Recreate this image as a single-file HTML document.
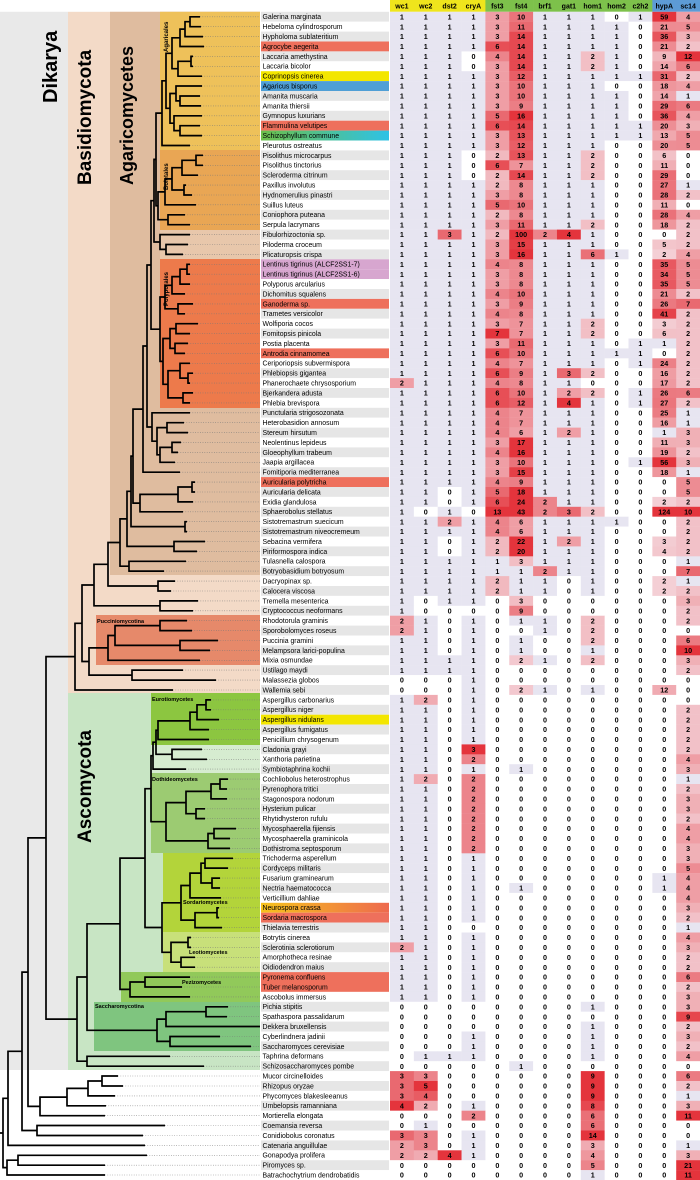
<!DOCTYPE html>
<html><head><meta charset="utf-8">
<style>
html,body{margin:0;padding:0;background:#fff;}
svg{display:block;font-family:"Liberation Sans",Arial,sans-serif;}
</style></head>
<body>
<svg id="chart" width="700" height="1180" viewBox="0 0 700 1180" xmlns="http://www.w3.org/2000/svg">
<defs>
<linearGradient id="gSchizo" x1="0" x2="1" y1="0" y2="0"><stop offset="0" stop-color="#6cbf4a"/><stop offset="1" stop-color="#2ec2e6"/></linearGradient>
<linearGradient id="gNeuro" x1="0" x2="1" y1="0" y2="0"><stop offset="0" stop-color="#f6c21c"/><stop offset="1" stop-color="#ee6a4e"/></linearGradient>
</defs>
<g id="bands"></g>
<g id="tree"></g>
<g id="labels">
<text x="57" y="103" transform="rotate(-90 57 103)" font-size="20" font-weight="bold">Dikarya</text>
<text x="91" y="185" transform="rotate(-90 91 185)" font-size="19" font-weight="bold">Basidiomycota</text>
<text x="133" y="185" transform="rotate(-90 133 185)" font-size="18" font-weight="bold">Agaricomycetes</text>
<text x="91" y="843" transform="rotate(-90 91 843)" font-size="19" font-weight="bold">Ascomycota</text>
<text x="168" y="52" transform="rotate(-90 168 52)" font-size="6" font-weight="bold">Agaricales</text>
<text x="168" y="190" transform="rotate(-90 168 190)" font-size="6" font-weight="bold">Boletales</text>
<text x="168" y="306" transform="rotate(-90 168 306)" font-size="6" font-weight="bold">Polyporales</text>
<text x="97" y="623" font-size="5.5" font-weight="bold">Pucciniomycotina</text>
<text x="152" y="701" font-size="5.5" font-weight="bold">Eurotiomycetes</text>
<text x="152" y="781" font-size="5.5" font-weight="bold">Dothideomycetes</text>
<text x="183" y="904" font-size="5.5" font-weight="bold">Sordariomycetes</text>
<text x="189" y="954" font-size="5.5" font-weight="bold">Leotiomycetes</text>
<text x="182" y="984" font-size="5.5" font-weight="bold">Pezizomycetes</text>
<text x="95" y="1008" font-size="5.5" font-weight="bold">Saccharomycotina</text>
</g>
<g id="table"></g>
</svg>
<script>
const species = ["Galerina marginata","Hebeloma cylindrosporum","Hypholoma sublateritium","Agrocybe aegerita","Laccaria amethystina","Laccaria bicolor","Coprinopsis cinerea","Agaricus bisporus","Amanita muscaria","Amanita thiersii",
"Gymnopus luxurians","Flammulina velutipes","Schizophyllum commune","Pleurotus ostreatus","Pisolithus microcarpus","Pisolithus tinctorius","Scleroderma citrinum","Paxillus involutus","Hydnomerulius pinastri","Suillus luteus",
"Coniophora puteana","Serpula lacrymans","Fibulorhizoctonia sp.","Piloderma croceum","Plicaturopsis crispa","Lentinus tigrinus (ALCF2SS1-7)","Lentinus tigrinus (ALCF2SS1-6)","Polyporus arcularius","Dichomitus squalens","Ganoderma sp.",
"Trametes versicolor","Wolfiporia cocos","Fomitopsis pinicola","Postia placenta","Antrodia cinnamomea","Ceriporiopsis subvermispora","Phlebiopsis gigantea","Phanerochaete chrysosporium","Bjerkandera adusta","Phlebia brevispora",
"Punctularia strigosozonata","Heterobasidion annosum","Stereum hirsutum","Neolentinus lepideus","Gloeophyllum trabeum","Jaapia argillacea","Fomitiporia mediterranea","Auricularia polytricha","Auricularia delicata","Exidia glandulosa",
"Sphaerobolus stellatus","Sistotremastrum suecicum","Sistotremastrum niveocremeum","Sebacina vermifera","Piriformospora indica","Tulasnella calospora","Botryobasidium botryosum","Dacryopinax sp.","Calocera viscosa","Tremella mesenterica",
"Cryptococcus neoformans","Rhodotorula graminis","Sporobolomyces roseus","Puccinia gramini","Melampsora larici-populina","Mixia osmundae","Ustilago maydi","Malassezia globos","Wallemia sebi","Aspergillus carbonarius",
"Aspergillus niger","Aspergillus nidulans","Aspergillus fumigatus","Penicillium chrysogenum","Cladonia grayi","Xanthoria parietina","Symbiotaphrina kochii","Cochliobolus heterostrophus","Pyrenophora tritici","Stagonospora nodorum",
"Hysterium pulicar","Rhytidhysteron rufulu","Mycosphaerella fijiensis","Mycosphaerella graminicola","Dothistroma septosporum","Trichoderma asperellum","Cordyceps militaris","Fusarium graminearum","Nectria haematococca","Verticillium dahliae",
"Neurospora crassa","Sordaria macrospora","Thielavia terrestris","Botrytis cinerea","Sclerotinia sclerotiorum","Amorphotheca resinae","Oidiodendron maius","Pyronema confluens","Tuber melanosporum","Ascobolus immersus",
"Pichia stipitis","Spathaspora passalidarum","Dekkera bruxellensis","Cyberlindnera jadinii","Saccharomyces cerevisiae","Taphrina deformans","Schizosaccharomyces pombe","Mucor circinelloides","Rhizopus oryzae","Phycomyces blakesleeanus",
"Umbelopsis ramanniana","Mortierella elongata","Coemansia reversa","Conidiobolus coronatus","Catenaria anguillulae","Gonapodya prolifera","Piromyces sp.","Batrachochytrium dendrobatidis"];

const genes = ["wc1","wc2","dst2","cryA","fst3","fst4","brf1","gat1","hom1","hom2","c2h2","hypA","sc14"];
const z10=[0,0,0,0,0,0,0,0,0,0], o10=[1,1,1,1,1,1,1,1,1,1];
const wc1 = [...o10,...o10,...o10, 1,1,1,1,1,1,1,2,1,1, ...o10,...o10, 1,2,2,1,1,1,1,0,0,1, ...o10,...o10, 1,1,1,1,2,1,1,1,1,1, 0,0,0,0,0,0,0,3,3,3, 4,0,0,3,2,2,0,0];
const wc2 = [...o10,...o10,...o10,...o10,...o10, 0,1,1,1,1,1,1,1,1,0, 0,1,1,1,1,1,1,0,0,2, 1,1,1,1,1,1,1,2,1,1, ...o10,...o10, 0,0,0,0,0,1,0,3,5,4, 2,0,1,3,3,2,0,0];
const dst2 = [...o10,...o10, 1,1,3,1,1,1,1,1,1,1, ...o10, 1,1,1,1,1,1,1,1,0,0, 1,2,1,0,0,1,1,1,1,1, 0,0,0,0,0,1,1,0,0,0, ...z10,...z10,...z10, 0,0,0,0,0,1,0,0,0,0, 0,0,0,0,0,4,0,0];
const cryA = [1,1,1,1,0,0,1,1,1,1, 1,1,1,1,0,0,0,1,1,1, ...o10,...o10,...o10, 0,1,1,1,1,1,1,1,1,1, 0,1,1,1,1,1,1,1,1,1, 1,1,1,1,3,2,1,2,2,2, 2,2,2,2,2,1,1,1,1,1, 1,1,0,1,1,1,1,1,1,1, 0,0,0,1,1,1,0,0,0,0, 1,2,0,1,1,1,0,0];
const fst3 = [3,3,3,6,4,3,3,3,3,3, 5,6,3,3,2,6,2,2,3,5, 2,3,2,3,3,4,3,3,4,3, 4,3,7,3,6,4,6,4,6,6, 4,4,4,3,4,3,3,4,5,6, 13,4,4,2,2,1,1,2,2,0, ...z10,...z10,...z10,...z10,...z10, 0,0,0,0,0,0,0,0];
const fst4 = [10,11,14,14,14,14,12,10,10,9, 16,14,13,12,13,7,14,8,8,10, 8,11,100,15,16,8,8,8,10,9, 8,7,7,11,10,7,9,8,10,12, 7,7,6,17,16,10,15,9,18,24, 43,6,6,22,20,3,1,1,1,3, 9,1,0,1,1,2,0,0,2,0, 0,0,0,0,0,0,1,0,0,0, 0,0,0,0,0,0,0,0,1,0, ...z10, 0,0,0,0,0,0,1,0,0,0, 0,0,0,0,0,0,0,0];
const brf1 = [...o10,...o10, 1,1,2,1,1,1,1,1,1,1, ...o10, 1,1,1,1,1,1,1,1,1,2, 2,1,1,1,1,1,2,1,1,0, 0,1,1,0,0,1,0,0,1,0, ...z10,...z10,...z10,...z10, 0,0,0,0,0,0,0,0];
const gat1 = [...o10,...o10, 1,1,4,1,1,1,1,1,1,1, 1,1,1,1,1,1,3,1,2,4, 1,1,2,1,1,1,1,1,1,1, 3,1,1,2,1,1,1,0,0,0, ...z10,...z10,...z10,...z10,...z10, 0,0,0,0,0,0,0,0];
const hom1 = [1,1,1,1,2,2,1,1,1,1, 1,1,1,1,2,2,2,1,1,1, 1,2,1,1,6,1,1,1,1,1, 1,2,2,1,1,1,2,0,2,1, ...o10, 2,1,1,1,1,1,1,1,1,0, 0,2,2,2,1,2,0,0,1,0, ...z10,...z10,...z10, 1,0,1,1,1,1,0,9,9,9, 8,6,6,14,3,4,5,1];
const hom2 = [0,1,1,1,1,1,1,0,1,1, 1,1,1,0,0,0,0,0,0,0, 0,0,0,0,1,0,0,0,0,0, 0,0,0,0,1,0,0,0,0,0, ...z10, 0,1,0,0,0,0,0,0,0,0, ...z10,...z10,...z10,...z10,...z10, 0,0,0,0,0,0,0,0];
const c2h2 = [1,0,0,0,0,0,1,0,0,0, 0,1,1,0,0,0,0,0,0,0, ...z10, 0,0,0,1,1,1,0,0,1,1, 0,0,0,0,0,1,0,0,0,0, ...z10,...z10,...z10,...z10,...z10,...z10, 0,0,0,0,0,0,0,0];
const hypA = [59,21,36,21,9,14,31,18,14,29, 36,20,13,20,6,11,29,27,28,11, 28,18,0,5,2,35,34,35,21,26, 41,3,6,1,0,24,16,17,26,27, 25,16,1,11,19,56,18,0,0,2, 124,0,0,3,4,0,0,2,2,0, 0,0,0,0,0,0,0,0,12,0, ...z10, 0,0,0,0,0,0,0,1,1,0, ...z10,...z10, 0,0,0,0,0,0,0,0];
const sc14 = [4,5,3,2,12,6,2,4,1,6, 4,3,5,5,0,0,0,1,2,0, 4,2,2,2,4,5,5,5,2,7, 2,2,2,2,2,2,2,2,6,2, 1,1,3,3,2,3,1,5,5,2, 10,2,2,2,2,1,7,1,2,3, 2,2,0,6,10,3,2,0,0,0, 2,2,2,2,2,4,3,1,2,3, 3,2,4,4,3,3,5,4,4,4, 3,2,1,4,3,2,2,6,2,3, 3,9,2,3,2,4,0,6,2,1, 3,11,0,0,1,3,21,11];
const columns = [wc1,wc2,dst2,cryA,fst3,fst4,brf1,gat1,hom1,hom2,c2h2,hypA,sc14];
const colorCaps = [4,5,4,3,7,16,3,4,9,2,2,45,10];
const headerColors = ["#efe51c","#efe51c","#efe51c","#efe51c","#7dc14b","#7dc14b","#7dc14b","#7dc14b","#7dc14b","#7dc14b","#7dc14b","#5d9bd6","#5d9bd6"];
const highlights = {3:"#ee705c",6:"#f3e600",7:"#4f9fd6",11:"#ee705c",12:"url(#gSchizo)",25:"#d7a6cf",26:"#d7a6cf",29:"#ee705c",34:"#ee705c",47:"#ee705c",71:"#f3e600",90:"url(#gNeuro)",91:"#ee705c",97:"#ee705c",98:"#ee705c"};

const NS="http://www.w3.org/2000/svg";
const ROW0=11.8, RH=9.9, NAMEX=260, COLX=390, CW=23.85;
function rowY(i){return ROW0+RH*i+RH/2;}
function mk(tag,attrs,parent){const e=document.createElementNS(NS,tag);for(const k in attrs)e.setAttribute(k,attrs[k]);parent.appendChild(e);return e;}
function hex(c){return [parseInt(c.slice(1,3),16),parseInt(c.slice(3,5),16),parseInt(c.slice(5,7),16)];}
function cellColor(v,cap){
  if(v===0)return "#ffffff";
  if(v===1)return "#e7e5f1";
  const t=Math.min(1,(v-1)/(cap-1));
  const a=hex("#f4d3d9"),b=hex("#e4343c");
  return "rgb("+a.map((x,k)=>Math.round(x+(b[k]-x)*t)).join(",")+")";
}

// bands
const bands=document.getElementById("bands");
const bandList=[
 ["dikarya-band",0,ROW0,68,1070-ROW0,"#e9e9e9"],
 ["basidiomycota-band",68,ROW0,192,693-ROW0,"#f3dac7"],
 ["agaricomycetes-band",110,ROW0,150,575-ROW0,"#dfbc9f"],
 ["agaricales-band",160,ROW0,100,150-ROW0,"#eec15a"],
 ["boletales-band",160,150,100,80,"#e9a654"],
 ["athelia-band",160,230,100,29,"#e8c7ab"],
 ["polyporales-band",160,259,100,149,"#ed7a4b"],
 ["pucciniomycotina-band",96,615,164,50,"#e6896a"],
 ["ascomycota-band",68,693,192,377,"#c8e5c4"],
 ["eurotiomycetes-band",151,693,109,52,"#8cc640"],
 ["lecanoro-band",151,745,109,28,"#d6ecd0"],
 ["dothideomycetes-band",151,773,109,80,"#9ccb72"],
 ["sordariomycetes-band",163,853,97,79,"#b3d43a"],
 ["leotiomycetes-band",163,932,97,40,"#c8e07a"],
 ["pezizomycetes-band",121,972,139,30,"#91c95a"],
 ["saccharomycotina-band",94,1002,166,49,"#7fc57f"]
];
for(const b of bandList){
  const r=mk("rect",{x:b[1],y:b[2],width:b[3],height:b[4],fill:b[5]},bands);
  
  
}

// tree
function N(x,...c){return {x:x,c:c};}
function L(i,x){return {i:i,x:x};}
const Agar=N(162,N(166,N(172,N(180,N(185,N(190,L(0,200),L(1,201)),L(2,203)),L(3,204)),N(178,N(191,L(4,193),L(5,193)),L(6,202))),N(170,N(176,L(7,202),N(180,L(8,200),L(9,201))),N(174,L(10,202),N(180,L(11,200),L(12,202))))),L(13,190));
const Bol=N(158,N(165,N(172,N(182,N(196,L(14,203),L(15,203)),L(16,198)),N(184,L(17,186),L(18,192))),L(19,196)),N(168,L(20,185),L(21,190)));
const Ath=N(160,L(22,190),N(166,L(23,188),L(24,183)));
const Polyp=N(160,N(165,N(172,N(180,N(187,L(25,190),L(26,190)),L(27,190)),L(28,185)),N(178,L(29,193),L(30,185))),N(163,N(170,N(176,L(31,198),L(32,190)),N(175,L(33,188),L(34,185))),N(168,N(180,L(35,190),N(188,L(36,193),L(37,190))),N(183,L(38,193),L(39,190)))));
const Russ=N(152,L(40,190),N(157,N(167,L(41,184),L(42,188)),N(160,N(172,L(43,181),L(44,178)),L(45,175))));
const AgBig=N(151,N(154,N(156,Agar,Bol),Ath),Polyp);
const Agm=N(120,N(127,N(131,N(133,N(143,N(147,AgBig,Russ),L(46,180)),N(140,N(178,N(192,L(47,195),L(48,195)),L(49,193)),L(50,183))),N(185,L(51,187),L(52,187))),N(174,L(53,205),L(54,197))),N(129,L(55,186),L(56,164)));
const Agcom=N(108,Agm,N(158,L(57,175),L(58,171)));
const N94=N(94,Agcom,N(160,L(59,198),L(60,193)));
const Pucc=N(108,N(115,N(160,L(61,187),L(62,192)),N(180,L(63,218),L(64,210))),L(65,200));
const N89=N(89,Pucc,N(132,L(66,183),L(67,216)));
const Basid=N(75,N(82,N94,N89),L(68,173));
const Euro=N(158,N(190,N(197,N(206,L(69,211),L(70,211)),L(71,219)),L(72,209)),L(73,209));
const EL=N(153,N(156,Euro,N(172,L(74,202),L(75,207))),L(76,186));
const Dothi=N(166,N(186,N(211,N(220,L(77,228),L(78,227)),L(79,227)),N(196,L(80,205),L(81,205))),N(208,N(214,L(82,236),L(83,230)),L(84,230)));
const Sordario=N(181,N(190,N(201,N(205,L(85,233),L(86,228)),N(212,L(87,220),L(88,220))),L(89,221)),N(195,N(217,L(90,219),L(91,219)),L(92,222)));
const Leotio=N(171,N(188,L(93,191),L(94,191)),N(181,L(95,195),L(96,195)));
const PezTop=N(145,N(151,EL,Dothi),N(162,Sordario,Leotio));
const Pezizom=N(130,N(145,L(97,190),L(98,182)),L(99,190));
const Pezizo=N(120,PezTop,Pezizom);
const Saccharo=N(157,N(166,N(206,L(100,228),L(101,227)),L(102,260)),N(170,L(103,220),L(104,251)));
const Asco=N(77,N(87,Pezizo,Saccharo),N(87,L(105,170),L(106,204)));
const Dikarya=N(46,Basid,Asco);
const Mucoro=N(40,N(67,N(88,N(102,L(107,118),L(108,123)),L(109,115)),L(110,106)),L(111,105));
const n28=N(28,Dikarya,Mucoro);
const n22=N(22,n28,N(37,L(112,165),L(113,143)));
const n8=N(8,n22,L(114,145));
const treeRoot=N(3,n8,N(7,N(18,L(115,147),L(116,105)),L(117,105)));

const treeG=document.getElementById("tree");
function ny(n){ if(n.i!==undefined){n.y=rowY(n.i);return n.y;} n.c.forEach(ny); n.y=(n.c[0].y+n.c[n.c.length-1].y)/2; return n.y;}
ny(treeRoot);
let segs="", dots="";
function draw(n){
  if(n.i!==undefined){ if(n.x<NAMEX) dots+="M"+n.x+" "+n.y.toFixed(1)+"H"+NAMEX; return; }
  segs+="M"+n.x+" "+n.c[0].y.toFixed(1)+"V"+n.c[n.c.length-1].y.toFixed(1);
  for(const ch of n.c){ segs+="M"+(n.x-0.8)+" "+ch.y.toFixed(1)+"H"+ch.x; draw(ch); }
}
draw(treeRoot);
const dl=mk("path",{d:dots,stroke:"#777",  "stroke-width":0.6,"stroke-dasharray":"0.8 1.6",fill:"none"},treeG);


const br=mk("path",{d:segs+"M0 "+treeRoot.y.toFixed(1)+"H3",stroke:"#000","stroke-width":1.7,fill:"none"},treeG);



// table
const table=document.getElementById("table");
genes.forEach((g,j)=>{
  const x=COLX+CW*j;
  const hr=mk("rect",{x:x,y:0,width:CW+0.3,height:ROW0,fill:headerColors[j]},table);
  
  
  const ht=mk("text",{x:x+CW/2,y:8.6,"font-size":7,"font-weight":"bold","text-anchor":"middle"},table);
  ht.textContent=g;
  
  
});
species.forEach((s,i)=>{
  const y=ROW0+RH*i;
  const fill=highlights[i]||(i%2===0?"#e6e6e6":"#ffffff");
  const nr=mk("rect",{x:NAMEX+1,y:y,width:COLX-NAMEX-2,height:RH,fill:fill},table);
  
  
  const nt=mk("text",{x:NAMEX+2.5,y:y+7.4,"font-size":6.9},table);
  nt.textContent=s;
  
  
  columns.forEach((col,j)=>{
    const v=col[i];
    const x=COLX+CW*j;
    const c=mk("rect",{x:x,y:y,width:CW+0.3,height:RH+0.2,fill:cellColor(v,colorCaps[j])},table);
    
    
    const t=mk("text",{x:x+CW/2,y:y+7.6,"font-size":7.2,"font-weight":"bold","text-anchor":"middle"},table);
    t.textContent=v;
    
    
  });
});
</script>
</body></html>
